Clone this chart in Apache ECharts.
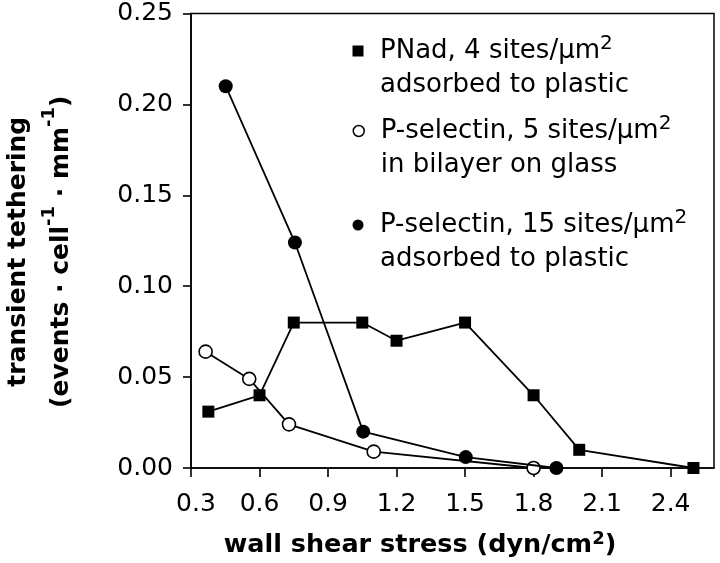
<!DOCTYPE html>
<html><head><meta charset="utf-8">
<script src="https://cdn.jsdelivr.net/npm/echarts@6/dist/echarts.min.js"></script>
<style>html,body{margin:0;padding:0;background:#fff}#c{width:720px;height:563px}</style>
</head><body><div id="c"></div>
<script>
// ---- data ----
const xTicks = [0.3, 0.6, 0.9, 1.2, 1.5, 1.8, 2.1, 2.4];
const yTicks = [0, 0.05, 0.10, 0.15, 0.20, 0.25];
const pnadX = [0.376, 0.60, 0.75, 1.05, 1.20, 1.50, 1.80, 2.00, 2.50];
const pnadY = [0.031, 0.040, 0.080, 0.080, 0.070, 0.080, 0.040, 0.010, 0.000];
const psel5X = [0.364, 0.555, 0.729, 1.10, 1.80];
const psel5Y = [0.064, 0.049, 0.024, 0.009, 0.000];
const psel15X = [0.452, 0.755, 1.054, 1.503, 1.90];
const psel15Y = [0.210, 0.124, 0.020, 0.006, 0.000];
const seriesNames = ['PNad', 'P-selectin 5', 'P-selectin 15'];
const legendLine1 = ['PNad, 4 sites/μm', 'P-selectin, 5 sites/μm', 'P-selectin, 15 sites/μm'];
const legendSup = ['2', '2', '2'];
const legendLine2 = ['adsorbed to plastic', 'in bilayer on glass', 'adsorbed to plastic'];
const xTitle = ['wall shear stress (dyn/cm', '2', ')'];
const yTitle1 = 'transient tethering';
const yTitle2 = ['(events · cell', '-1', ' · mm', '-1', ')'];

const zip = (xs, ys) => xs.map((x, i) => [x, ys[i]]);
const FONT = 'DejaVu Sans';
const BLACK = '#000';

const markerStyles = [
  { symbol: 'rect', symbolSize: 12, itemStyle: { color: BLACK } },
  { symbol: 'circle', symbolSize: 13, itemStyle: { color: '#fff', borderColor: BLACK, borderWidth: 1.6 } },
  { symbol: 'circle', symbolSize: 14, itemStyle: { color: BLACK } }
];
const legendIcons = ['rect', 'circle', 'circle'];
const legendItemStyles = [
  { color: BLACK, borderWidth: 0 },
  { color: '#fff', borderColor: BLACK, borderWidth: 1.5 },
  { color: BLACK, borderWidth: 0 }
];
const legendTops = [0, 80, 174];

const seriesData = [zip(pnadX, pnadY), zip(psel5X, psel5Y), zip(psel15X, psel15Y)];

const chart = echarts.init(document.getElementById('c'), null, { renderer: 'canvas' });

const option = {
  backgroundColor: '#fff',
  animation: false,
  grid: {
    left: 191, top: 13.5, width: 523, height: 454.5,
    show: true, borderColor: BLACK, borderWidth: 1.5, backgroundColor: 'transparent',
    outerBoundsMode: 'none', containLabel: false
  },
  xAxis: {
    type: 'value', min: 0.3, max: 2.59,
    axisLine: { show: true, onZero: false, lineStyle: { color: BLACK, width: 1.6 } },
    axisTick: { show: true, length: 9, customValues: xTicks, lineStyle: { color: BLACK, width: 1.6 } },
    axisLabel: {
      customValues: xTicks, margin: 24, color: BLACK, fontFamily: FONT, fontSize: 25,
      formatter: v => (Math.abs(v - xTicks[0]) < 1e-9 ? '{f|' + v.toFixed(1) + '}' : v.toFixed(1)),
      rich: { f: { padding: [0, 0, 0, 10] } }
    },
    splitLine: { show: false },
    name: '{t|' + xTitle[0] + '}{s|' + xTitle[1] + '}{t|' + xTitle[2] + '}',
    nameLocation: 'middle', nameGap: 62, nameMoveOverlap: false,
    nameTextStyle: {
      color: BLACK, fontFamily: FONT, fontSize: 25.5, fontWeight: 'bold', padding: [0, 65, 0, 0],
      rich: {
        t: { fontSize: 25.5, fontWeight: 'bold', lineHeight: 30 },
        s: { fontSize: 18, fontWeight: 'bold', lineHeight: 8, verticalAlign: 'top' }
      }
    }
  },
  yAxis: {
    type: 'value', min: yTicks[0], max: yTicks[yTicks.length - 1], interval: 0.05,
    axisLine: { show: true, onZero: false, lineStyle: { color: BLACK, width: 1.6 } },
    axisTick: { show: true, length: 8, lineStyle: { color: BLACK, width: 1.6 } },
    axisLabel: { margin: 18, color: BLACK, fontFamily: FONT, fontSize: 25, formatter: v => v.toFixed(2) },
    splitLine: { show: false },
    name: '{t|' + yTitle1 + '}\n{t|' + yTitle2[0] + '}{s|' + yTitle2[1] + '}{t|' + yTitle2[2] + '}{s|' + yTitle2[3] + '}{t|' + yTitle2[4] + '}',
    nameLocation: 'middle', nameRotate: 90, nameGap: 108, nameMoveOverlap: false,
    nameTextStyle: {
      color: BLACK, fontFamily: FONT, fontSize: 25, fontWeight: 'bold', padding: [0, 22, 0, 0],
      rich: {
        t: { fontSize: 25, fontWeight: 'bold', lineHeight: 43 },
        s: { fontSize: 18, fontWeight: 'bold', lineHeight: 21, verticalAlign: 'top' }
      }
    }
  },
  legend: seriesNames.map((name, i) => ({
    left: 352.5, top: legendTops[i], padding: 0, orient: 'vertical',
    itemWidth: 11, itemHeight: 11, itemGap: 0, selectedMode: false,
    data: [{ name: name, icon: legendIcons[i], itemStyle: legendItemStyles[i] }],
    formatter: () => legendLine1[i] + '{s|' + legendSup[i] + '}\n' + legendLine2[i],
    textStyle: {
      color: BLACK, fontFamily: FONT, fontSize: 26, lineHeight: 34, padding: [34, 0, 0, 11.5],
      rich: { s: { fontSize: 20, lineHeight: 17, verticalAlign: 'top' } }
    }
  })),
  series: seriesNames.map((name, i) => ({
    name: name, type: 'line', data: seriesData[i], clip: false,
    symbol: markerStyles[i].symbol, symbolSize: markerStyles[i].symbolSize,
    itemStyle: markerStyles[i].itemStyle,
    lineStyle: { color: BLACK, width: 1.8 },
    emphasis: { disabled: true }, z: 2 + i
  }))
};
chart.setOption(option);
</script></body></html>
